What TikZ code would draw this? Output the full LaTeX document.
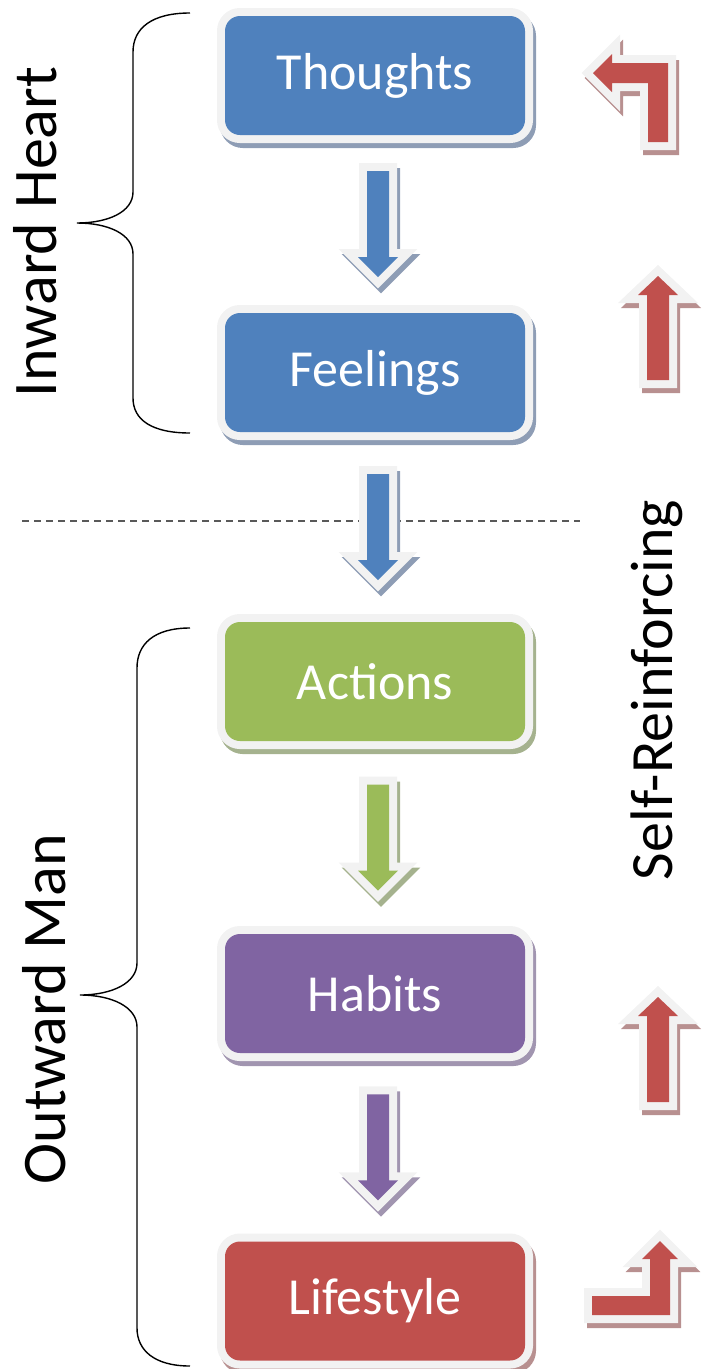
\documentclass[tikz,border=0pt]{standalone}
\usepackage{fontspec}
\setmainfont{Carlito}
\usepackage{tikz}
\usetikzlibrary{calc}

\definecolor{boxBlue}{HTML}{4F81BD}
\definecolor{boxBlueSh}{HTML}{8E9DB5}
\definecolor{boxGreen}{HTML}{9BBB59}
\definecolor{boxGreenSh}{HTML}{A5B28E}
\definecolor{boxPurple}{HTML}{8064A2}
\definecolor{boxPurpleSh}{HTML}{A195B0}
\definecolor{boxRed}{HTML}{C0504D}
\definecolor{boxRedSh}{HTML}{B89090}
\definecolor{rimGray}{HTML}{F2F2F2}
\definecolor{sepGray}{HTML}{595959}

\tikzset{
  rimmed/.style={
    preaction={draw=#1, fill=#1, line width=16pt, line join=miter,
      transform canvas={shift={(3pt,-5pt)}}},
    preaction={draw=rimGray, fill=rimGray, line width=16pt, line join=miter}},
  stepbox/.style={rectangle, rounded corners=15pt, minimum width=300pt,
    minimum height=119pt, inner sep=0pt, fill=#1, rimmed=#1Sh, text=white,
    font=\fontsize{52}{60}\selectfont},
  curly/.style={line width=1.4pt},
  sepline/.style={draw=sepGray, line width=1.2pt, dash pattern=on 7pt off 5pt},
  sidelabel/.style={rotate=90, anchor=base, font=\fontsize{62}{70}\selectfont}
}

\begin{document}
\begin{tikzpicture}[x=1pt, y=-1pt]
  \useasboundingbox (0,0) rectangle (704,1369);

  \draw[sepline] (22,521) -- (580,521);

  \foreach \name/\txt/\y/\col in {thoughts/Thoughts/75.5/boxBlue,
      feelings/Feelings/372.5/boxBlue, actions/Actions/681.5/boxGreen,
      habits/Habits/993.5/boxPurple, lifestyle/Lifestyle/1301/boxRed} {
    \node[stepbox=\col] (\name) at (375,\y) {\txt};
  }

  \def\drawDown#1#2#3{
    \path[rimmed=#3Sh, fill=#3]
      ($(#1.south)!0.5!(#2.north)+(-8,-53)$) -- ++(22,0) -- ++(0,86)
      -- ++(9,0) -- ++(-20,20) -- ++(-20,-20) -- ++(9,0) -- cycle;
  }

  \def\drawUp#1#2#3{
    \path[rimmed=boxRedSh, fill=boxRed]
      (#1,#2) -- ++(20,19) -- ++(-9,0) -- (#1+11,#3) -- (#1-11,#3)
      -- (#1-11,#2+19) -- ++(-9,0) -- cycle;
  }

  \drawDown{thoughts}{feelings}{boxBlue}
  \drawDown{feelings}{actions}{boxBlue}
  \drawDown{actions}{habits}{boxGreen}
  \drawDown{habits}{lifestyle}{boxPurple}

  % red arrows on the right
  \path[rimmed=boxRedSh, fill=boxRed] (593,73) -- (612,54) -- (612,63)
    -- (668,63) -- (668,142) -- (648,142) -- (648,83) -- (612,83)
    -- (612,92) -- cycle;
  \drawUp{658}{276}{380}
  \drawUp{658}{997}{1102}
  \path[rimmed=boxRedSh, fill=boxRed] (660,1241) -- (678,1259) -- (670,1259)
    -- (670,1315) -- (592,1315) -- (592,1296) -- (650,1296) -- (650,1259)
    -- (642,1259) -- cycle;

  % braces
  \draw[curly] (190,13) .. controls (152,13) and (133,28) .. (133,52)
    -- (133,192) .. controls (133,212) and (108,223) .. (77,223)
    .. controls (108,223) and (133,234) .. (133,254)
    -- (133,398) .. controls (133,420) and (152,433) .. (190,433);
  \draw[curly] (190,628) .. controls (154,628) and (137,644) .. (137,668)
    -- (137,963) .. controls (137,983) and (112,995) .. (80,995)
    .. controls (112,995) and (137,1007) .. (137,1027)
    -- (137,1328) .. controls (137,1350) and (154,1366) .. (190,1366);

  \node[sidelabel] (inward) at (56,232) {Inward Heart};
  \node[sidelabel] (outward) at (65,1009) {Outward Man};
  \node[sidelabel, font=\fontsize{60}{68}\selectfont] (selfrein) at (672,690)
    {Self-Reinforcing};
\end{tikzpicture}
\end{document}
